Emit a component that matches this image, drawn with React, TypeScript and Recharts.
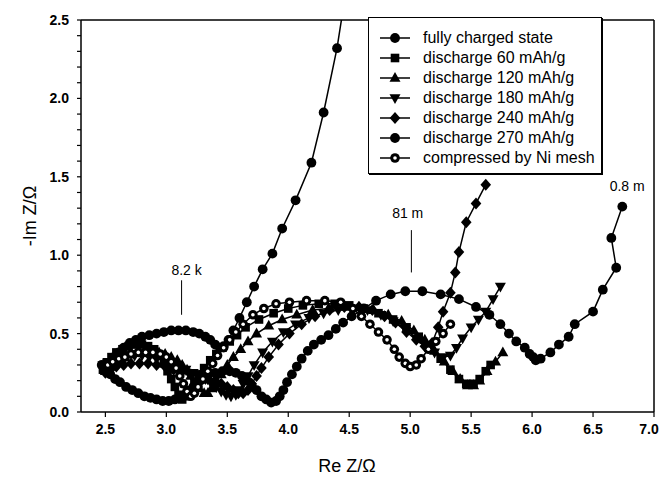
import React from 'react';
import {
  ScatterChart,
  Scatter,
  XAxis,
  YAxis,
  ReferenceLine,
  ReferenceDot,
  Label,
} from 'recharts';

const FONT = '"Liberation Sans", Arial, Helvetica, sans-serif';

// Nyquist curves, [Re Z, -Im Z] in ohm
const fullyCharged: [number, number][] = [
  [2.53, 0.31], [2.57, 0.35], [2.61, 0.38], [2.65, 0.41], [2.7, 0.44], [2.75, 0.46],
  [2.8, 0.48], [2.86, 0.49], [2.92, 0.5], [2.98, 0.51], [3.04, 0.52], [3.1, 0.52],
  [3.16, 0.52], [3.22, 0.51], [3.27, 0.5], [3.32, 0.48], [3.36, 0.46], [3.4, 0.43],
  [3.44, 0.41], [3.47, 0.42], [3.51, 0.46], [3.55, 0.52], [3.6, 0.6], [3.66, 0.7],
  [3.72, 0.8], [3.79, 0.91], [3.87, 1.01], [3.95, 1.17], [4.06, 1.35], [4.19, 1.59],
  [4.29, 1.91], [4.4, 2.32], [4.48, 2.72],
];

const discharge60: [number, number][] = [
  [2.48, 0.27], [2.51, 0.31], [2.55, 0.35], [2.59, 0.38], [2.64, 0.4], [2.69, 0.42],
  [2.74, 0.43], [2.8, 0.43], [2.85, 0.42], [2.9, 0.4], [2.94, 0.36], [2.98, 0.31],
  [3.01, 0.26], [3.04, 0.21], [3.07, 0.16], [3.1, 0.11], [3.13, 0.08], [3.16, 0.1],
  [3.19, 0.14], [3.23, 0.19], [3.27, 0.24], [3.31, 0.28], [3.36, 0.33], [3.41, 0.37],
  [3.46, 0.41], [3.52, 0.45], [3.58, 0.49], [3.65, 0.54], [3.76, 0.59], [3.88, 0.63],
  [4.0, 0.66], [4.12, 0.68], [4.25, 0.69], [4.38, 0.69], [4.5, 0.68], [4.62, 0.66],
  [4.74, 0.63], [4.86, 0.59], [4.97, 0.54], [5.07, 0.48], [5.16, 0.41], [5.25, 0.34],
  [5.33, 0.27], [5.4, 0.21], [5.46, 0.18], [5.52, 0.18], [5.57, 0.21], [5.62, 0.26],
  [5.66, 0.3],
];

const discharge120: [number, number][] = [
  [2.5, 0.26], [2.53, 0.29], [2.57, 0.31], [2.61, 0.33], [2.66, 0.35], [2.71, 0.37],
  [2.76, 0.38], [2.82, 0.39], [2.88, 0.39], [2.94, 0.38], [2.99, 0.37], [3.04, 0.35],
  [3.09, 0.33], [3.13, 0.3], [3.17, 0.27], [3.2, 0.23], [3.24, 0.19], [3.27, 0.15],
  [3.31, 0.12], [3.34, 0.12], [3.37, 0.15], [3.41, 0.19], [3.45, 0.24], [3.5, 0.3],
  [3.55, 0.35], [3.61, 0.4], [3.67, 0.45], [3.74, 0.5], [3.84, 0.55], [3.95, 0.59],
  [4.07, 0.62], [4.2, 0.65], [4.33, 0.66], [4.46, 0.67], [4.58, 0.67], [4.7, 0.65],
  [4.82, 0.62], [4.93, 0.58], [5.03, 0.52], [5.12, 0.46], [5.2, 0.39], [5.28, 0.32],
  [5.35, 0.26], [5.41, 0.21], [5.47, 0.17], [5.52, 0.17], [5.57, 0.2], [5.63, 0.26],
  [5.7, 0.32], [5.76, 0.38],
];

const discharge180: [number, number][] = [
  [2.48, 0.3], [2.52, 0.32], [2.57, 0.34], [2.62, 0.35], [2.68, 0.36], [2.74, 0.36],
  [2.8, 0.36], [2.86, 0.35], [2.92, 0.34], [2.98, 0.33], [3.04, 0.31], [3.1, 0.29],
  [3.16, 0.27], [3.22, 0.25], [3.27, 0.23], [3.32, 0.21], [3.37, 0.18], [3.41, 0.16],
  [3.45, 0.13], [3.49, 0.11], [3.53, 0.1], [3.57, 0.11], [3.6, 0.14], [3.63, 0.18],
  [3.67, 0.23], [3.72, 0.3], [3.79, 0.38], [3.87, 0.45], [3.96, 0.51], [4.06, 0.56],
  [4.17, 0.6], [4.29, 0.63], [4.41, 0.65], [4.53, 0.66], [4.65, 0.65], [4.76, 0.62],
  [4.86, 0.58], [4.96, 0.53], [5.05, 0.47], [5.13, 0.42], [5.2, 0.38], [5.27, 0.35],
  [5.33, 0.36], [5.38, 0.41], [5.43, 0.47], [5.5, 0.54], [5.56, 0.59], [5.62, 0.64],
  [5.68, 0.72], [5.74, 0.8],
];

const discharge240: [number, number][] = [
  [2.5, 0.25], [2.54, 0.27], [2.59, 0.29], [2.65, 0.3], [2.71, 0.31], [2.78, 0.31],
  [2.85, 0.31], [2.92, 0.3], [2.99, 0.29], [3.06, 0.27], [3.13, 0.26], [3.2, 0.24],
  [3.27, 0.23], [3.34, 0.21], [3.4, 0.2], [3.45, 0.18], [3.5, 0.16], [3.55, 0.14],
  [3.59, 0.12], [3.63, 0.12], [3.67, 0.14], [3.7, 0.18], [3.74, 0.23], [3.78, 0.28],
  [3.84, 0.35], [3.92, 0.43], [4.01, 0.5], [4.11, 0.56], [4.22, 0.61], [4.34, 0.65],
  [4.46, 0.67], [4.58, 0.67], [4.69, 0.65], [4.79, 0.61], [4.88, 0.57], [4.97, 0.51],
  [5.05, 0.46], [5.12, 0.42], [5.18, 0.44], [5.23, 0.54], [5.27, 0.64], [5.33, 0.76],
  [5.37, 0.89], [5.4, 1.02], [5.46, 1.21], [5.54, 1.33], [5.62, 1.45],
];

const discharge270: [number, number][] = [
  [2.47, 0.3], [2.5, 0.27], [2.54, 0.24], [2.58, 0.21], [2.62, 0.19], [2.67, 0.16],
  [2.72, 0.14], [2.77, 0.12], [2.82, 0.1], [2.87, 0.09], [2.92, 0.08], [2.97, 0.07],
  [3.02, 0.07], [3.07, 0.08], [3.12, 0.1], [3.17, 0.13], [3.22, 0.16], [3.28, 0.2],
  [3.34, 0.23], [3.4, 0.25], [3.46, 0.26], [3.52, 0.26], [3.57, 0.25], [3.62, 0.23],
  [3.66, 0.2], [3.7, 0.17], [3.74, 0.14], [3.78, 0.1], [3.82, 0.08], [3.86, 0.06],
  [3.9, 0.07], [3.93, 0.1], [3.96, 0.14], [3.99, 0.19], [4.03, 0.24], [4.07, 0.29],
  [4.11, 0.34], [4.16, 0.39], [4.21, 0.43], [4.27, 0.46], [4.33, 0.49], [4.39, 0.53],
  [4.45, 0.57], [4.52, 0.61], [4.62, 0.66], [4.72, 0.71], [4.84, 0.75], [4.96, 0.77],
  [5.1, 0.77], [5.25, 0.75], [5.4, 0.72], [5.54, 0.67], [5.65, 0.62], [5.74, 0.56],
  [5.81, 0.5], [5.87, 0.45], [5.94, 0.41], [5.98, 0.37], [6.01, 0.35], [6.03, 0.33],
  [6.07, 0.34], [6.15, 0.38], [6.22, 0.43], [6.3, 0.48], [6.35, 0.56], [6.5, 0.64],
  [6.58, 0.78], [6.69, 0.92], [6.65, 1.11], [6.74, 1.31],
];

const compressedNiMesh: [number, number][] = [
  [2.52, 0.3], [2.56, 0.32], [2.61, 0.34], [2.66, 0.35], [2.71, 0.37], [2.77, 0.38],
  [2.83, 0.38], [2.89, 0.38], [2.95, 0.37], [3.0, 0.35], [3.04, 0.32], [3.08, 0.28],
  [3.11, 0.23], [3.14, 0.18], [3.17, 0.13], [3.2, 0.1], [3.23, 0.12], [3.26, 0.16],
  [3.3, 0.21], [3.34, 0.26], [3.38, 0.31], [3.42, 0.36], [3.47, 0.41], [3.52, 0.46],
  [3.57, 0.51], [3.63, 0.56], [3.71, 0.62], [3.8, 0.66], [3.9, 0.69], [4.01, 0.7],
  [4.15, 0.71], [4.3, 0.71], [4.43, 0.7], [4.53, 0.66], [4.6, 0.61], [4.67, 0.56],
  [4.74, 0.51], [4.81, 0.46], [4.87, 0.4], [4.91, 0.35], [4.96, 0.31], [5.0, 0.29],
  [5.05, 0.3], [5.09, 0.34], [5.15, 0.4], [5.21, 0.45], [5.27, 0.5], [5.33, 0.56],
];

const xTicks = [2.5, 3.0, 3.5, 4.0, 4.5, 5.0, 5.5, 6.0, 6.5, 7.0];
const yTicks = [
  0, 0.1, 0.2, 0.3, 0.4, 0.5, 0.6, 0.7, 0.8, 0.9, 1.0, 1.1, 1.2, 1.3,
  1.4, 1.5, 1.6, 1.7, 1.8, 1.9, 2.0, 2.1, 2.2, 2.3, 2.4, 2.5,
];
const yLabelled = [0, 0.5, 1.0, 1.5, 2.0, 2.5];

const annotations = [
  { text: '8.2 k', tx: 3.166, ty: 0.906, lx: 3.125, y1: 0.62, y2: 0.84 },
  { text: '81 m', tx: 4.98, ty: 1.27, lx: 5.01, y1: 0.89, y2: 1.16 },
  { text: '0.8 m', tx: 6.78, ty: 1.44, lx: null, y1: 0, y2: 0 },
];

type Kind = 'circle' | 'square' | 'triangle' | 'triangleDown' | 'diamond' | 'open';

const series: { name: string; data: [number, number][]; kind: Kind }[] = [
  { name: 'fully charged state', data: fullyCharged, kind: 'circle' },
  { name: 'discharge 60 mAh/g', data: discharge60, kind: 'square' },
  { name: 'discharge 120 mAh/g', data: discharge120, kind: 'triangle' },
  { name: 'discharge 180 mAh/g', data: discharge180, kind: 'triangleDown' },
  { name: 'discharge 240 mAh/g', data: discharge240, kind: 'diamond' },
  { name: 'discharge 270 mAh/g', data: discharge270, kind: 'circle' },
  { name: 'compressed by Ni mesh', data: compressedNiMesh, kind: 'open' },
];

function Marker({ cx, cy, kind }: { cx: number; cy: number; kind: Kind }) {
  if (cx == null || cy == null) return null;
  switch (kind) {
    case 'square':
      return <rect x={cx - 4.3} y={cy - 4.3} width={8.6} height={8.6} fill="#000" />;
    case 'triangle':
      return <polygon points={`${cx},${cy - 6} ${cx + 5.5},${cy + 3.8} ${cx - 5.5},${cy + 3.8}`} fill="#000" />;
    case 'triangleDown':
      return <polygon points={`${cx},${cy + 6} ${cx + 5.5},${cy - 3.8} ${cx - 5.5},${cy - 3.8}`} fill="#000" />;
    case 'diamond':
      return <polygon points={`${cx},${cy - 6} ${cx + 5.3},${cy} ${cx},${cy + 6} ${cx - 5.3},${cy}`} fill="#000" />;
    case 'open':
      return (
        <g>
          <circle cx={cx} cy={cy} r={4.8} fill="#000" />
          <circle cx={cx} cy={cy} r={1.8} fill="#fff" />
        </g>
      );
    default:
      return <circle cx={cx} cy={cy} r={4.9} fill="#000" />;
  }
}

function XTick({ x, y, payload }: any) {
  // keep the last label inside the page edge
  const cx = Math.min(x, 660 - 11);
  return (
    <text x={cx} y={y + 13} textAnchor="middle" fontSize={14} fontWeight={600} fontFamily={FONT} fill="#000">
      {Number(payload.value).toFixed(1)}
    </text>
  );
}

function YTick({ x, y, payload }: any) {
  const v = Number(payload.value);
  if (!yLabelled.some((t) => Math.abs(t - v) < 1e-6)) return null;
  return (
    <text x={x} y={y + 5} textAnchor="end" fontSize={14} fontWeight={600} fontFamily={FONT} fill="#000">
      {v.toFixed(1)}
    </text>
  );
}

function LegendBox() {
  return (
    <div
      style={{
        position: 'absolute',
        left: 368,
        top: 17,
        width: 234,
        height: 157,
        border: '1px solid #000',
        boxShadow: '1px 1px 0 #000',
        background: '#fff',
        boxSizing: 'border-box',
        fontFamily: FONT,
        fontSize: 16,
        color: '#000',
      }}
    >
      {series.map((s, i) => (
        <div
          key={s.name}
          style={{ position: 'absolute', left: 0, top: 10 + i * 20, height: 20, display: 'flex', alignItems: 'center' }}
        >
          <svg width={54} height={20} style={{ display: 'block' }}>
            <line x1={11} y1={10} x2={41} y2={10} stroke="#000" strokeWidth={1.5} />
            <Marker cx={26} cy={10} kind={s.kind} />
          </svg>
          <span style={{ whiteSpace: 'nowrap', lineHeight: '20px' }}>{s.name}</span>
        </div>
      ))}
    </div>
  );
}

export default function App() {
  return (
    <div style={{ position: 'absolute', left: 0, top: 0, width: 660, height: 478, background: '#fff' }}>
      <ScatterChart width={660} height={478} margin={{ top: 20, right: 6, bottom: 6, left: 0 }}>
        <XAxis
          type="number"
          dataKey="x"
          domain={[2.3, 7]}
          ticks={xTicks}
          interval={0}
          allowDataOverflow
          height={60}
          tickSize={5}
          tickMargin={4}
          tick={<XTick />}
          axisLine={{ stroke: '#000', strokeWidth: 1.5 }}
          tickLine={{ stroke: '#000', strokeWidth: 1.2 }}
        >
          <Label
            content={() => (
              <text x={347} y={472} textAnchor="middle" fontSize={18} fontFamily={FONT} fill="#000">
                Re Z/Ω
              </text>
            )}
          />
        </XAxis>
        <YAxis
          type="number"
          dataKey="y"
          domain={[0, 2.5]}
          ticks={yTicks}
          interval={0}
          allowDataOverflow
          width={81}
          tickSize={4}
          tickMargin={8}
          tick={<YTick />}
          axisLine={{ stroke: '#000', strokeWidth: 1.5 }}
          tickLine={{ stroke: '#000', strokeWidth: 1.2 }}
        >
          <Label
            content={() => (
              <text
                x={30}
                y={216}
                transform="rotate(-90 30 216)"
                textAnchor="middle"
                dominantBaseline="central"
                fontSize={18}
                fontFamily={FONT}
                fill="#000"
              >
                -Im Z/Ω
              </text>
            )}
          />
        </YAxis>
        <ReferenceLine y={2.5} stroke="#000" strokeWidth={1.5} />
        <ReferenceLine x={7} stroke="#000" strokeWidth={1.5} />
        {series.map((s) => (
          <Scatter
            key={s.name}
            name={s.name}
            data={s.data.map(([x, y]) => ({ x, y }))}
            line={{ stroke: '#000', strokeWidth: 1.5 }}
            lineType="joint"
            isAnimationActive={false}
            shape={(p: any) => <Marker cx={p.cx} cy={p.cy} kind={s.kind} />}
          />
        ))}
        {annotations.map((a) =>
          a.lx != null ? (
            <ReferenceLine
              key={a.text + '-line'}
              segment={[{ x: a.lx, y: a.y1 }, { x: a.lx, y: a.y2 }]}
              stroke="#000"
              strokeWidth={1}
            />
          ) : null
        )}
        {annotations.map((a) => (
          <ReferenceDot
            key={a.text}
            x={a.tx}
            y={a.ty}
            r={0}
            fill="none"
            stroke="none"
            label={{ value: a.text, position: 'center', fill: '#000', fontSize: 14, fontFamily: FONT }}
          />
        ))}
      </ScatterChart>
      <LegendBox />
    </div>
  );
}
